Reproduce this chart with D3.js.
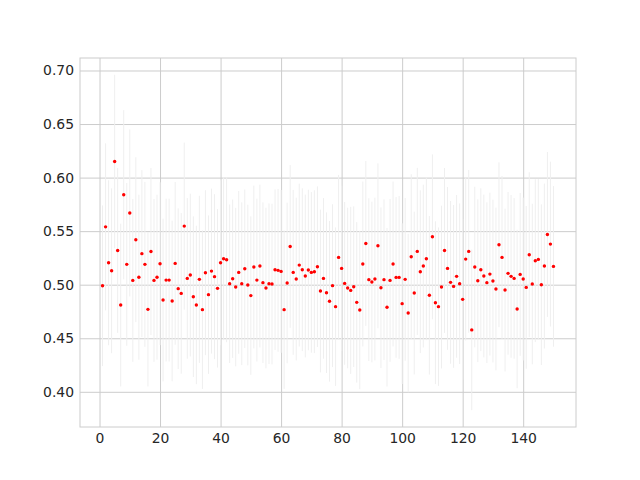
<!DOCTYPE html>
<html>
<head>
<meta charset="utf-8">
<script src="https://cdn.jsdelivr.net/npm/d3@7"></script>
<style>
  body { margin: 0; background: #fff; }
  #chart { width: 640px; height: 480px; }
  .axis text { font-family: "DejaVu Sans", sans-serif; font-size: 13.9px; fill: #262626; }
</style>
</head>
<body>
<div id="chart"></div>
<script>
// Mean per trial (x = 1..150)
const means = [
    0.499, 0.554, 0.5205, 0.513, 0.615, 0.532, 0.481, 0.584, 0.519, 0.567,
    0.504, 0.542, 0.507, 0.529, 0.519, 0.477, 0.531, 0.504, 0.507, 0.5196,
    0.4857, 0.5043, 0.5043, 0.4848, 0.5199, 0.4963, 0.4919, 0.5547, 0.5059, 0.509,
    0.4888, 0.4811, 0.505, 0.4767, 0.5112, 0.4907, 0.5127, 0.5075, 0.4966, 0.5205,
    0.5242, 0.5233, 0.5009, 0.5056, 0.4978, 0.5115, 0.5009, 0.5149, 0.4997, 0.4898,
    0.5165, 0.5043, 0.5174, 0.5019, 0.4969, 0.5009, 0.5006, 0.514, 0.5134, 0.5124,
    0.4767, 0.5016, 0.5357, 0.5115, 0.5053, 0.5183, 0.514, 0.5081, 0.5137, 0.5115,
    0.5121, 0.5168, 0.4941, 0.5059, 0.4925, 0.4845, 0.4991, 0.4795, 0.5255, 0.5152,
    0.5012, 0.4969, 0.4947, 0.4981, 0.4835, 0.4764, 0.5193, 0.5385, 0.5047, 0.5025,
    0.5053, 0.5363, 0.4972, 0.5047, 0.4789, 0.504, 0.5193, 0.5068, 0.5068, 0.4823,
    0.505, 0.4736, 0.5261, 0.4922, 0.5311, 0.5121, 0.5174, 0.5242, 0.4901, 0.5447,
    0.4832, 0.4795, 0.4978, 0.532, 0.5152, 0.5022, 0.4984, 0.5078, 0.5009, 0.4863,
    0.5239, 0.5311, 0.4578, 0.5165, 0.5037, 0.514, 0.5081, 0.5019, 0.5099, 0.5034,
    0.496, 0.5373, 0.5255, 0.495, 0.5106, 0.5078, 0.5059, 0.4773, 0.5096, 0.5053,
    0.4975, 0.528, 0.5006, 0.5224, 0.5236, 0.5, 0.5174, 0.5469, 0.5379, 0.5171
];

// Error bar half-widths
const errors = [
    0.075, 0.078, 0.077, 0.077, 0.081, 0.077, 0.076, 0.079, 0.076, 0.078,
    0.076, 0.077, 0.077, 0.078, 0.077, 0.072, 0.078, 0.076, 0.077, 0.076,
    0.076, 0.076, 0.076, 0.075, 0.076, 0.075, 0.075, 0.078, 0.075, 0.076,
    0.075, 0.074, 0.078, 0.074, 0.077, 0.074, 0.077, 0.077, 0.074, 0.077,
    0.076, 0.077, 0.074, 0.074, 0.074, 0.076, 0.076, 0.074, 0.075, 0.074,
    0.076, 0.076, 0.076, 0.075, 0.075, 0.075, 0.075, 0.075, 0.076, 0.076,
    0.074, 0.075, 0.076, 0.077, 0.076, 0.076, 0.076, 0.076, 0.075, 0.075,
    0.076, 0.075, 0.076, 0.075, 0.075, 0.075, 0.076, 0.074, 0.077, 0.077,
    0.076, 0.075, 0.078, 0.075, 0.075, 0.074, 0.077, 0.077, 0.076, 0.075,
    0.076, 0.077, 0.075, 0.075, 0.074, 0.076, 0.077, 0.075, 0.076, 0.075,
    0.076, 0.074, 0.077, 0.076, 0.078, 0.076, 0.076, 0.076, 0.074, 0.077,
    0.076, 0.074, 0.076, 0.077, 0.076, 0.076, 0.076, 0.076, 0.075, 0.075,
    0.076, 0.076, 0.075, 0.075, 0.076, 0.076, 0.076, 0.075, 0.076, 0.076,
    0.076, 0.077, 0.076, 0.076, 0.076, 0.076, 0.075, 0.074, 0.076, 0.076,
    0.076, 0.077, 0.075, 0.076, 0.075, 0.075, 0.077, 0.077, 0.077, 0.075
];

const xTicks = [0, 20, 40, 60, 80, 100, 120, 140];
const yTicks = [0.40, 0.45, 0.50, 0.55, 0.60, 0.65, 0.70];

const data = means.map((m, i) => ({ x: i + 1, y: m, err: errors[i] }));

const width = 640, height = 480;
const margin = { top: 58, right: 64, bottom: 53, left: 80 };
const chartWidth = width - margin.left - margin.right;
const chartHeight = height - margin.top - margin.bottom;

const svg = d3.select('#chart').append('svg')
    .attr('width', width)
    .attr('height', height);

const g = svg.append('g')
    .attr('transform', `translate(${margin.left},${margin.top})`);

// matplotlib-like 5% margins
const xExt = d3.extent(data, d => d.x);
const xPad = (xExt[1] - xExt[0]) * 0.05;
const yMin = d3.min(data, d => d.y - d.err);
const yMax = d3.max(data, d => d.y + d.err);
const yPad = (yMax - yMin) * 0.05;

const xScale = d3.scaleLinear()
    .domain([xExt[0] - xPad, xExt[1] + xPad])
    .range([0, chartWidth]);

const yScale = d3.scaleLinear()
    .domain([yMin - yPad, yMax + yPad])
    .range([chartHeight, 0]);

// Axes with grid lines
const xAxis = d3.axisBottom(xScale)
    .tickValues(xTicks)
    .tickSize(-chartHeight)
    .tickPadding(6);

const yAxis = d3.axisLeft(yScale)
    .tickValues(yTicks)
    .tickFormat(d3.format('.2f'))
    .tickSize(-chartWidth)
    .tickPadding(6);

g.append('g')
    .attr('class', 'axis')
    .attr('transform', `translate(0,${chartHeight})`)
    .call(xAxis)
    .call(a => a.select('.domain').remove())
    .call(a => a.selectAll('.tick line').attr('stroke', '#cccccc').attr('stroke-width', 1));

g.append('g')
    .attr('class', 'axis')
    .call(yAxis)
    .call(a => a.select('.domain').remove())
    .call(a => a.selectAll('.tick line').attr('stroke', '#cccccc').attr('stroke-width', 1));

// Error bars
g.selectAll('.err')
    .data(data)
    .enter()
    .append('line')
    .attr('class', 'err')
    .attr('x1', d => xScale(d.x))
    .attr('x2', d => xScale(d.x))
    .attr('y1', d => yScale(d.y - d.err))
    .attr('y2', d => yScale(d.y + d.err))
    .attr('stroke', '#efefef')
    .attr('stroke-width', 1);

// Points
g.selectAll('.dot')
    .data(data)
    .enter()
    .append('circle')
    .attr('class', 'dot')
    .attr('cx', d => xScale(d.x))
    .attr('cy', d => yScale(d.y))
    .attr('r', 1.7)
    .attr('fill', '#ff0000');

// Frame
g.append('rect')
    .attr('width', chartWidth)
    .attr('height', chartHeight)
    .attr('fill', 'none')
    .attr('stroke', '#cccccc')
    .attr('stroke-width', 1);
</script>
</body>
</html>
